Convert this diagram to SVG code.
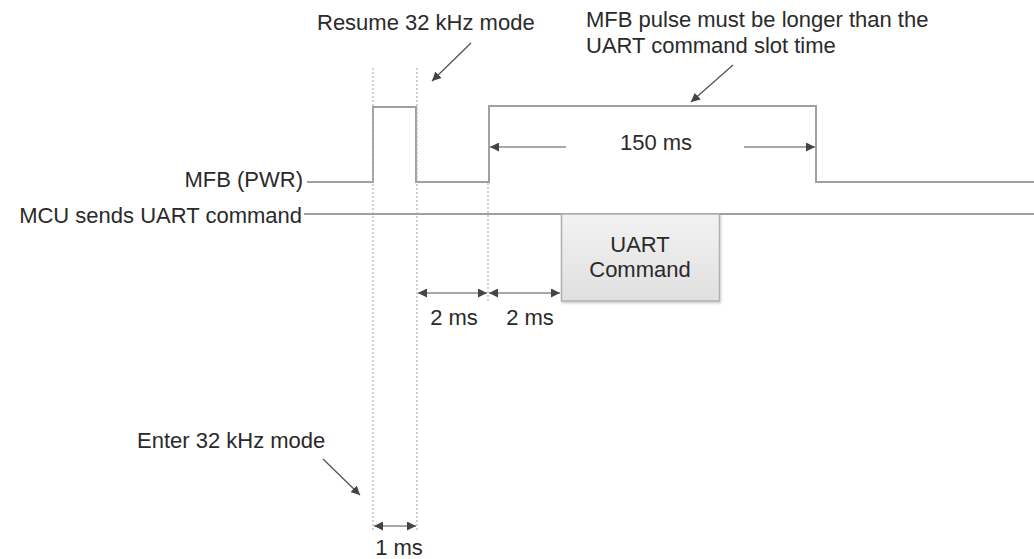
<svg xmlns="http://www.w3.org/2000/svg" width="1034" height="559" viewBox="0 0 1034 559">
<style>
text{font-family:"Liberation Sans",Arial,sans-serif;font-size:22px;fill:#2a2a2a}
.sig{fill:none;stroke:#a0a0a0;stroke-width:2}
.dot{fill:none;stroke:#b0b0b0;stroke-width:1.2;stroke-dasharray:2 2}
.dim{fill:none;stroke:#8a8a8a;stroke-width:1.5}
.call{fill:none;stroke:#555;stroke-width:1.3}
</style>
<defs>
<marker id="ah" viewBox="0 0 10 10" refX="10" refY="5" markerWidth="9" markerHeight="9" markerUnits="userSpaceOnUse" orient="auto-start-reverse">
<path d="M0,0 L10,5 L0,10 Z" fill="#444"/>
</marker>
<linearGradient id="bg" x1="0" y1="0" x2="0" y2="1">
<stop offset="0" stop-color="#f2f2f2"/>
<stop offset="1" stop-color="#e0e0e0"/>
</linearGradient>
<filter id="sh" x="-10%" y="-10%" width="130%" height="130%">
<feDropShadow dx="1" dy="1.5" stdDeviation="1" flood-color="#000" flood-opacity="0.2"/>
</filter>
</defs>

<g id="connectors">
<!-- MFB signal -->
<polyline class="sig" points="307,182 373,182 373,107 416,107 416,182 489,182 489,106 816,106 816,182 1034,182"/>
<!-- UART line -->
<line class="sig" x1="304" y1="214" x2="1034" y2="214"/>
<!-- dotted markers -->
<line class="dot" x1="373" y1="68" x2="373" y2="530"/>
<line class="dot" x1="417" y1="68" x2="417" y2="530"/>
<line class="dot" x1="488" y1="183" x2="488" y2="302"/>
<!-- 150 ms -->
<line class="dim" x1="566" y1="147" x2="490" y2="147" marker-end="url(#ah)"/>
<line class="dim" x1="744" y1="147" x2="815" y2="147" marker-end="url(#ah)"/>
<!-- 2 ms -->
<line class="dim" x1="418" y1="293" x2="487" y2="293" marker-start="url(#ah)" marker-end="url(#ah)"/>
<line class="dim" x1="489" y1="293" x2="560" y2="293" marker-start="url(#ah)" marker-end="url(#ah)"/>
<!-- 1 ms -->
<line class="dim" x1="374" y1="526" x2="416" y2="526" marker-start="url(#ah)" marker-end="url(#ah)"/>
<!-- callouts -->
<line class="call" x1="471" y1="43" x2="432" y2="81" marker-end="url(#ah)"/>
<line class="call" x1="733" y1="65" x2="691" y2="102" marker-end="url(#ah)"/>
<line class="call" x1="323" y1="459" x2="360" y2="495" marker-end="url(#ah)"/>
</g>

<g id="uart-command">
<rect x="561.5" y="214" width="158" height="87" fill="url(#bg)" stroke="#b0b0b0" stroke-width="1.5" filter="url(#sh)"/>
<text x="640" y="252" text-anchor="middle">UART</text>
<text x="640" y="277" text-anchor="middle">Command</text>
</g>

<g id="labels">
<text x="303" y="187" text-anchor="end">MFB (PWR)</text>
<text x="302" y="223" text-anchor="end">MCU sends UART command</text>
<text x="317" y="30">Resume 32 kHz mode</text>
<text x="586" y="27">MFB pulse must be longer than the</text>
<text x="586" y="53">UART command slot time</text>
<text x="656" y="150" text-anchor="middle">150 ms</text>
<text x="454" y="325" text-anchor="middle">2 ms</text>
<text x="530" y="325" text-anchor="middle">2 ms</text>
<text x="137" y="448">Enter 32 kHz mode</text>
<text x="399" y="555" text-anchor="middle">1 ms</text>
</g>
</svg>
